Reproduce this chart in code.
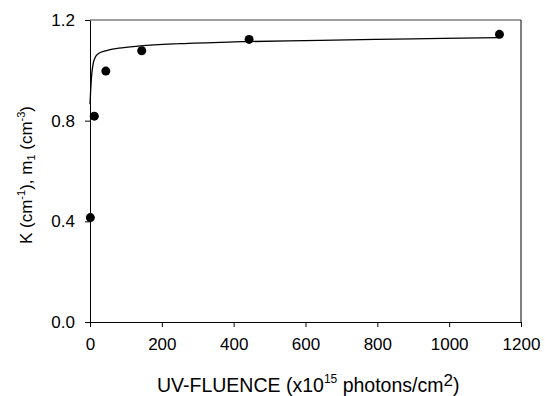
<!DOCTYPE html>
<html>
<head>
<meta charset="utf-8">
<script src="https://cdn.jsdelivr.net/npm/d3@7"></script>
<style>
  body { margin: 0; background: #fff; }
  text { font-family: "Liberation Sans", Arial, sans-serif; fill: #000; }
</style>
</head>
<body>
<div id="chart"></div>
<script>
// measured points
const fluence = [1, 12, 44, 144, 443, 1140];
const kValues = [0.415, 0.818, 0.997, 1.078, 1.123, 1.143];

// fitted curve
const fitX = [0, 3, 6, 9, 14, 23, 40, 80, 140, 250, 400, 640, 900, 1140];
const fitY = [0.865, 0.95, 1.0, 1.028, 1.05, 1.066, 1.076, 1.088, 1.097, 1.106, 1.113, 1.119, 1.125, 1.13];

const xTicks = [0, 200, 400, 600, 800, 1000, 1200];
const yTicks = [0.0, 0.4, 0.8, 1.2];

const width = 545;
const height = 396;
const margin = { top: 20, right: 24, bottom: 74, left: 90 };

const svg = d3
  .select("#chart")
  .append("svg")
  .attr("width", width)
  .attr("height", height);

const x = d3
  .scaleLinear()
  .domain([0, 1200])
  .range([margin.left, width - margin.right]);

const y = d3
  .scaleLinear()
  .domain([0, 1.2])
  .range([height - margin.bottom, margin.top]);

// frame: grey top, black right
svg
  .append("line")
  .attr("x1", x(0))
  .attr("x2", x(1200))
  .attr("y1", y(1.2))
  .attr("y2", y(1.2))
  .attr("stroke", "#808080")
  .attr("stroke-width", 1.5);

svg
  .append("line")
  .attr("x1", x(1200))
  .attr("x2", x(1200))
  .attr("y1", y(1.2))
  .attr("y2", y(0))
  .attr("stroke", "#000")
  .attr("stroke-width", 1);

const xAxis = svg
  .append("g")
  .attr("transform", `translate(0,${y(0)})`)
  .call(
    d3
      .axisBottom(x)
      .tickValues(xTicks)
      .tickSize(5)
      .tickSizeOuter(0)
      .tickPadding(11)
      .tickFormat(d3.format("d"))
  );

const yAxis = svg
  .append("g")
  .attr("transform", `translate(${x(0)},0)`)
  .call(
    d3
      .axisLeft(y)
      .tickValues(yTicks)
      .tickSize(5)
      .tickSizeOuter(0)
      .tickPadding(10)
      .tickFormat(d3.format(".1f"))
  );

[xAxis, yAxis].forEach((g) => {
  g.select(".domain").attr("stroke", "#000");
  g.selectAll(".tick line").attr("stroke", "#000");
  g.selectAll("text")
    .attr("font-size", 17)
    .attr("font-family", "Liberation Sans, Arial, sans-serif")
    .attr("fill", "#000");
});

// fit line
const fitData = fitX.map((d, i) => [d, fitY[i]]);
svg
  .append("path")
  .datum(fitData)
  .attr("fill", "none")
  .attr("stroke", "#000")
  .attr("stroke-width", 1.3)
  .attr(
    "d",
    d3
      .line()
      .x((d) => x(d[0]))
      .y((d) => y(d[1]))
      .curve(d3.curveMonotoneX)
  );

// points
svg
  .append("g")
  .selectAll("circle")
  .data(fluence.map((d, i) => [d, kValues[i]]))
  .join("circle")
  .attr("cx", (d) => x(d[0]))
  .attr("cy", (d) => y(d[1]))
  .attr("r", 4.5)
  .attr("fill", "#000");

// x title
const xTitle = svg
  .append("text")
  .attr("x", 157)
  .attr("y", 392)
  .attr("text-anchor", "start")
  .attr("font-size", 19.5);
xTitle.append("tspan").text("UV-FLUENCE (x10");
xTitle.append("tspan").attr("font-size", 12).attr("dy", -9).text("15");
xTitle.append("tspan").attr("dy", 9).text(" photons/cm");
xTitle.append("tspan").attr("font-size", 17).attr("dy", -6).text("2");
xTitle.append("tspan").attr("dy", 6).text(")");

// y title
const yTitle = svg
  .append("text")
  .attr("transform", `translate(32,175) rotate(-90)`)
  .attr("text-anchor", "middle")
  .attr("font-size", 17);
yTitle.append("tspan").text("K (cm");
yTitle.append("tspan").attr("font-size", 11).attr("dy", -7).text("-1");
yTitle.append("tspan").attr("dy", 7).text("), m");
yTitle.append("tspan").attr("font-size", 11).attr("dy", 3).text("1");
yTitle.append("tspan").attr("dy", -3).text(" (cm");
yTitle.append("tspan").attr("font-size", 11).attr("dy", -7).text("-3");
yTitle.append("tspan").attr("dy", 7).text(")");
</script>
</body>
</html>
